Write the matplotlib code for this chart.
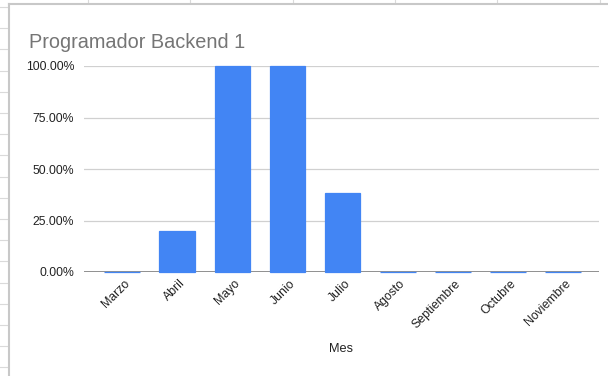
import numpy as np
import matplotlib.pyplot as plt
from matplotlib.lines import Line2D
from matplotlib.ticker import FuncFormatter
from matplotlib.transforms import ScaledTranslation

# datos del grafico #
meses = ["Marzo", "Abril", "Mayo", "Junio", "Julio", "Agosto",
         "Septiembre", "Octubre", "Noviembre"]
porcentaje = [0.0, 0.20, 1.0, 1.0, 0.385, 0.0, 0.0, 0.0, 0.0]
titulo = "Programador Backend 1"

plt.rcParams['font.family'] = ['Liberation Sans', 'DejaVu Sans']

W, H = 608, 376
fig = plt.figure(figsize=(W / 100, H / 100), dpi=100)

# fondo de hoja de calculo (lineas de celdas) #
gris_celda = "#dadada"
for y in np.arange(7, H, 21.2):
    fig.add_artist(Line2D([0, 8 / W], [1 - y / H, 1 - y / H], color=gris_celda, lw=0.8))
for x in [88, 190, 293, 395, 497, 600]:
    fig.add_artist(Line2D([x / W, x / W], [1, 1 - 3 / H], color=gris_celda, lw=0.8))
# borde de la tarjeta #
fig.add_artist(Line2D([9 / W, 9 / W], [0, 1 - 4 / H], color="#c8c8c8", lw=1.5))
fig.add_artist(Line2D([9 / W, 1], [1 - 4 / H, 1 - 4 / H], color="#c8c8c8", lw=1.5))

ax = fig.add_axes([84 / W, (H - 272) / H, (599 - 84) / W, (272 - 66) / H])
x = np.arange(len(meses))
ax.axhline(0, color="#888888", lw=1.3, zorder=2)
ax.bar(x, porcentaje, width=0.645, color="#4285F4", edgecolor="#4285F4",
       linewidth=0.9, zorder=3, clip_on=False)

ax.set_xlim(-0.69, 8.65)
ax.set_ylim(0, 1.0)
ax.set_yticks([0, 0.25, 0.5, 0.75, 1.0])
ax.yaxis.set_major_formatter(FuncFormatter(lambda v, p: f"{v * 100:.2f}%"))
ax.grid(axis="y", color="#d0d0d0", lw=0.9, zorder=0)
for s in ax.spines.values():
    s.set_visible(False)
ax.tick_params(axis="y", length=0, pad=7, labelsize=8.8, labelcolor="#222222")
ax.set_xticks(x)
ax.set_xticklabels(meses, rotation=45, ha="right", va="center", rotation_mode="anchor")
ax.tick_params(axis="x", length=0, pad=7, labelsize=8.8, labelcolor="#222222")
desplaza = ScaledTranslation(6 / 100, 0, fig.dpi_scale_trans)
for lbl in ax.get_xticklabels():
    lbl.set_transform(lbl.get_transform() + desplaza)
ax.set_xlabel("Mes", fontsize=9.2, color="#222222", labelpad=9)

fig.text(29 / W, 1 - 48 / H, titulo, fontsize=14.3, color="#757575", ha="left", va="baseline")

plt.savefig("out.png", dpi=100)
